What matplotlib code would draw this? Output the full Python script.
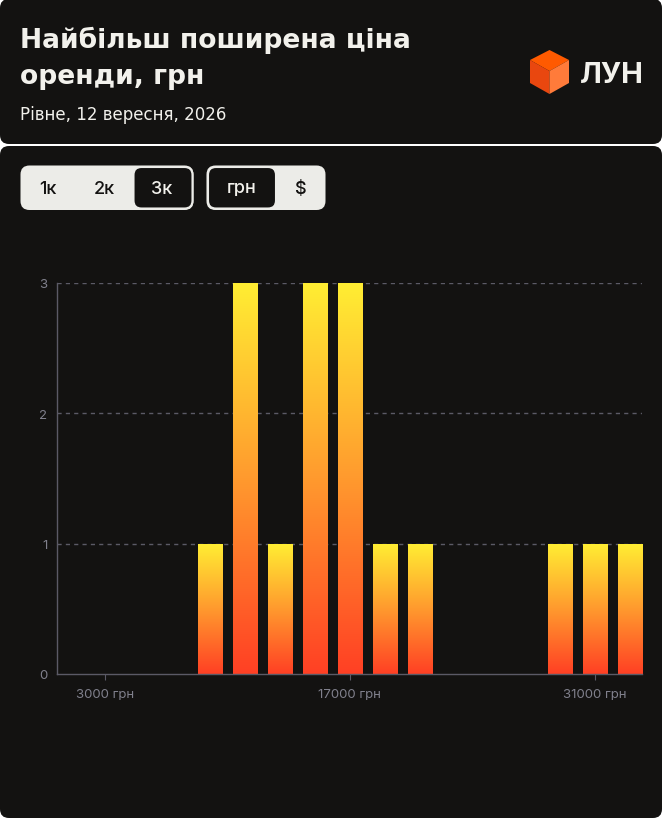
import numpy as np
import matplotlib
matplotlib.use("Agg")
import matplotlib.pyplot as plt
from matplotlib.patches import FancyBboxPatch, Polygon
from matplotlib.colors import LinearSegmentedColormap

plt.rcParams['font.family'] = ['Inter', 'DejaVu Sans']

# data
price_bins = [3000, 5000, 7000, 9000, 11000, 13000, 15000, 17000,
              19000, 21000, 23000, 25000, 27000, 29000, 31000, 33000]
counts = [0, 0, 0, 1, 3, 1, 3, 3, 1, 1, 0, 0, 0, 1, 1, 1]
tick_vals = [3000, 17000, 31000]
tick_labels = ["3000 грн", "17000 грн", "31000 грн"]
y_ticks = [0, 1, 2, 3]

title = "Найбільш поширена ціна\nоренди, грн"
subtitle = "Рівне, 12 вересня, 2026"
range_opts = ["1к", "2к", "3к"]
cur_opts = ["грн", "$"]

W, H = 662, 820
BG = "#131211"
FG = "#f2f1ec"
PILL = "#ecece8"
GRID = "#5b5a66"
TICK = "#80808c"

fig = plt.figure(figsize=(W / 100, H / 100), dpi=100, facecolor="white")

# overlay in pixel coords, y pointing down
bg = fig.add_axes([0, 0, 1, 1], zorder=0)
bg.set_xlim(0, W)
bg.set_ylim(H, 0)
bg.axis("off")

def card(x, y, w, h, r, fc, ec="none", lw=0):
    bg.add_patch(FancyBboxPatch((x + r, y + r), w - 2 * r, h - 2 * r,
                                boxstyle=f"round,pad={r}", fc=fc, ec=ec, lw=lw))

card(0, 0, W, 145, 9, BG)
card(0, 147, W, 672, 9, BG)

t1, t2 = title.split("\n")
bg.text(20, 47.5, t1, color=FG, fontsize=19.1, fontweight="bold", va="baseline",
        family="DejaVu Sans")
bg.text(20, 84, t2, color=FG, fontsize=19.1, fontweight="bold", va="baseline",
        family="DejaVu Sans")
bg.text(20, 119.5, subtitle, color=FG, fontsize=12, va="baseline",
        family="DejaVu Sans")

# logo cube
cx, cy = 549.5, 72
top, ur, lr, bot, ll, ul = (cx, 51), (569, 61), (569, 84), (cx, 95), (530, 84), (530, 61)
bg.add_patch(Polygon([top, ur, (cx, cy), ul], fc="#ff5a00", ec="none"))
bg.add_patch(Polygon([ul, (cx, cy), bot, ll], fc="#e9470f", ec="none"))
bg.add_patch(Polygon([(cx, cy), ur, lr, bot], fc="#ff7b3a", ec="none"))
bg.text(580, 83, "ЛУН", color=FG, fontsize=21, fontweight="bold", va="baseline")

# toggles
card(20.5, 166.5, 173, 44.5, 9, PILL)
card(133.5, 168, 59, 41.5, 8, BG, ec=PILL, lw=1.5)
for lbl, x in zip(range_opts, [48, 104, 162]):
    bg.text(x, 189, lbl, color=FG if lbl == "3к" else BG, fontsize=13,
            fontweight="medium", ha="center", va="center")
card(206.5, 166.5, 119, 44.5, 9, PILL)
card(208, 168, 68, 41.5, 8, BG, ec=PILL, lw=1.5)
for lbl, x in zip(cur_opts, [242, 300]):
    bg.text(x, 189, lbl, color=FG if lbl == "грн" else BG, fontsize=13,
            fontweight="medium", ha="center", va="center")

# chart
ax = fig.add_axes([57.3 / W, 1 - 675 / H, (642 - 57.3) / W, (675 - 283.7) / H], zorder=1)
ax.patch.set_alpha(0)

for y in y_ticks[1:]:
    ax.axhline(y, color=GRID, lw=1, ls=(0, (3, 3)), zorder=0)

cmap = LinearSegmentedColormap.from_list("g", ["#ff4024", "#ff9a2e", "#ffee33"])
grad = np.linspace(0, 1, 256).reshape(-1, 1)
bars = ax.bar(price_bins, counts, width=1400, color="none", zorder=2)
for b in bars:
    if b.get_height() == 0:
        continue
    x0, w, h = b.get_x(), b.get_width(), b.get_height()
    im = ax.imshow(grad, cmap=cmap, origin="lower", aspect="auto",
                   extent=[x0, x0 + w, 0, h], zorder=2)
    im.set_clip_path(b)

ax.set_xlim(274, 33700)
ax.set_ylim(0, 3)

for s in ["top", "right"]:
    ax.spines[s].set_visible(False)
for s in ["left", "bottom"]:
    ax.spines[s].set_color(GRID)
    ax.spines[s].set_linewidth(1)

ax.set_yticks(y_ticks)
ax.set_yticklabels([str(v) for v in y_ticks])
ax.set_xticks(tick_vals)
ax.set_xticklabels(tick_labels)
ax.tick_params(axis="y", length=0, pad=7, labelcolor=TICK, labelsize=9.5)
ax.tick_params(axis="x", length=4, color=GRID, pad=6, labelcolor=TICK, labelsize=9.5)

fig.savefig("out.png", dpi=100, facecolor="white")
